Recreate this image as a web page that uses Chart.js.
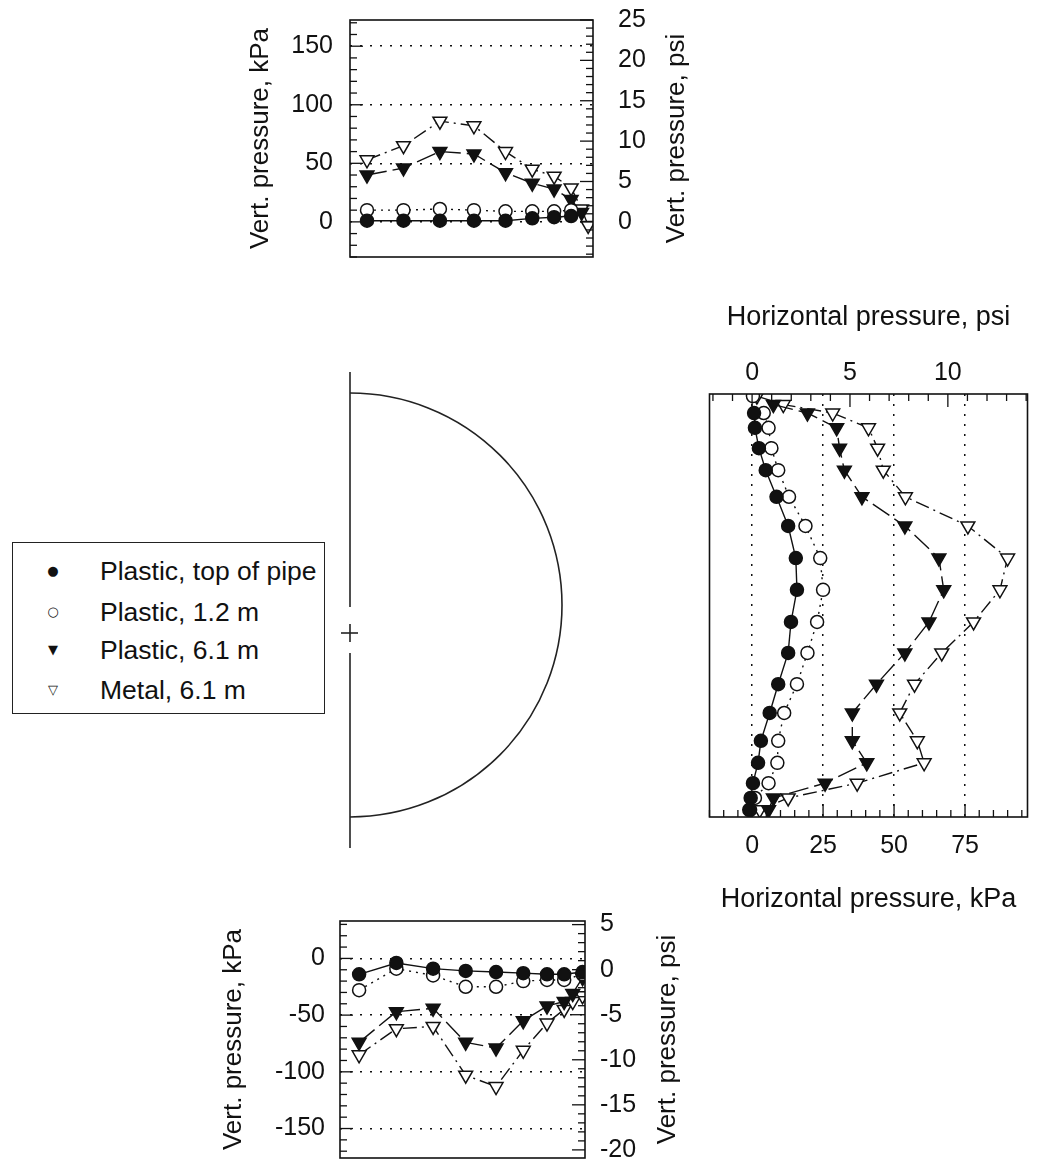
<!DOCTYPE html>
<html lang="en">
<head>
<meta charset="UTF-8">
<title>Pressure around pipe</title>
<script src="https://cdn.jsdelivr.net/npm/chart.js"></script>
<style>
  body { margin: 0; background: #fff; }
  #page { position: relative; width: 1037px; height: 1173px; overflow: hidden; font-family: "Liberation Sans", Arial, sans-serif; color: #111; }
  canvas { position: absolute; }
  #pipe { position: absolute; left: 0; top: 0; }
  #legend { position: absolute; left: 12px; top: 542px; width: 313px; height: 172px; border: 1.5px solid #222; box-sizing: border-box; }
  #legend .row { position: absolute; left: 0; height: 30px; line-height: 30px; font-size: 26.5px; white-space: nowrap; }
  #legend .mk { position: absolute; left: 30px; width: 20px; text-align: center; font-family: "DejaVu Sans", sans-serif; font-size: 13px; }
  #legend .tx { position: absolute; left: 87px; }
</style>
</head>
<body>
<div id="page">
  <svg id="pipe" width="1037" height="1173">
    <g stroke="#222" stroke-width="1.6" fill="none">
      <path d="M350,393 A212,212 0 0 1 350,817"/>
      <line x1="350" y1="372" x2="350" y2="607"/>
      <line x1="350" y1="653" x2="350" y2="848"/>
      <line x1="341" y1="633" x2="358" y2="633"/>
      <line x1="350" y1="624" x2="350" y2="642"/>
    </g>
  </svg>
  <canvas id="topChart" width="520" height="280" style="left:200px;top:0px"></canvas>
  <canvas id="sideChart" width="337" height="640" style="left:700px;top:290px"></canvas>
  <canvas id="bottomChart" width="520" height="293" style="left:190px;top:880px"></canvas>
  <div id="legend"></div>
</div>

<script>
  // legend / series names
  const seriesNames = ["Plastic, top of pipe", "Plastic, 1.2 m", "Plastic, 6.1 m", "Metal, 6.1 m"];
  const legendMarks = ["\u25CF", "\u25CB", "\u25BC", "\u25BD"];

  // top graph: vertical pressure over the crown (kPa), position across pipe 0..1
  const topPos = [0.07, 0.22, 0.37, 0.51, 0.64, 0.75, 0.84, 0.91, 0.953, 0.98];
  const topPlasticTop = [1, 1, 1, 1, 1, 3, 4, 5, null, null];
  const topPlastic12 = [10, 10, 11, 10, 9, 9, 9, 10, null, null];
  const topPlastic61 = [40, 46, 60, 58, 42, 33, 28, 19, 8, null];
  const topMetal = [53, 65, 86, 82, 60, 45, 39, 29, 11, -3];
  const topKpaTicks = [0, 50, 100, 150];
  const topPsiTicks = [0, 5, 10, 15, 20, 25];

  // bottom graph: vertical pressure under the invert (kPa)
  const btmPos = [0.078, 0.23, 0.38, 0.513, 0.637, 0.748, 0.845, 0.915, 0.95, 0.99];
  const btmPlasticTop = [-14, -4, -9, -11, -12, -13, -14, -14, null, -12];
  const btmPlastic12 = [-28, -9, -15, -25, -25, -20, -19, -19, null, -14];
  const btmPlastic61 = [-74, -47, -44, -74, -79, -55, -42, -38, -31, -17];
  const btmMetal = [-85, -62, -60, -103, -113, -81, -57, -45, -38, -33];
  const btmKpaTicks = [0, -50, -100, -150];
  const btmPsiTicks = [5, 0, -5, -10, -15, -20];

  // side graph: horizontal pressure (kPa) vs height on the pipe wall (1 = crown, 0 = invert)
  const sidePos = [0.995, 0.975, 0.955, 0.92, 0.872, 0.82, 0.757, 0.688, 0.612, 0.537, 0.461, 0.388, 0.314, 0.246, 0.18, 0.128, 0.08, 0.045, 0.017];
  const sidePlasticTop = [null, null, 0.7, 1, 2.4, 4.8, 8.6, 12.7, 15.4, 15.8, 13.7, 12.7, 9.2, 6.2, 3.1, 2.1, 0.3, -0.5, -1];
  const sidePlastic12 = [0.3, null, 4.1, 5.8, 6.8, 9.2, 13, 18.8, 24, 25, 22.9, 19.5, 15.8, 11.3, 9.2, 8.9, 5.8, 1, -0.7];
  const sidePlastic61 = [null, 7.5, 19.5, 29.8, 30.8, 32.5, 38.7, 53.8, 65.8, 67.5, 62.3, 53.8, 43.8, 35.3, 35.3, 40.4, 25.7, 7.5, 5.8];
  const sideMetal = [1.7, 11, 28.4, 41, 44.2, 46.2, 54, 76, 90, 87.3, 78, 66.8, 57.2, 52, 58.2, 60.6, 37, 12.7, 2.7];
  const sideKpaTicks = [0, 25, 50, 75];
  const sidePsiTicks = [0, 5, 10];

  const KPA_PER_PSI = 6.895;

  Chart.defaults.font.family = '"Liberation Sans", Arial, sans-serif';
  Chart.defaults.color = "#111";

  const tickFont = { size: 25 };
  const titleFont = { size: 26 };
  const wideTitleFont = { size: 27 };

  // marker + line look for each series
  const looks = [
    { pointStyle: "circle", pointRadius: 6.5, pointBackgroundColor: "#111", borderDash: [] },
    { pointStyle: "circle", pointRadius: 6.5, pointBackgroundColor: "#fff", borderDash: [2, 5] },
    { pointStyle: "triangle", pointRotation: 180, pointRadius: 8, pointBackgroundColor: "#111", borderDash: [20, 6] },
    { pointStyle: "triangle", pointRotation: 180, pointRadius: 8, pointBackgroundColor: "#fff", borderDash: [14, 5, 2, 5] }
  ];

  function makeSet(i, xs, ys) {
    const pts = [];
    xs.forEach((x, k) => { if (x !== null && ys[k] !== null) pts.push({ x: x, y: ys[k] }); });
    return Object.assign({
      label: seriesNames[i],
      data: pts,
      showLine: true,
      borderColor: "#111",
      borderWidth: 1.4,
      pointBorderColor: "#111",
      pointBorderWidth: 1.5,
      tension: 0
    }, looks[i]);
  }

  // frame around plot area, small inward ticks, and the upward-reading right title
  const frame = {
    id: "frame",
    afterDraw(chart, args, opts) {
      const { ctx, chartArea: a } = chart;
      ctx.save();
      ctx.strokeStyle = "#111";
      ctx.lineWidth = 1.6;
      ctx.setLineDash([]);
      ctx.strokeRect(a.left, a.top, a.right - a.left, a.bottom - a.top);
      ctx.lineWidth = 1.3;
      (opts.ticks || []).forEach(t => {
        const s = chart.scales[t.id];
        const lo = Math.min(s.min, s.max), hi = Math.max(s.min, s.max);
        for (let n = Math.ceil(lo / t.minor); n <= Math.floor(hi / t.minor); n++) {
          const p = s.getPixelForValue(n * t.minor);
          const len = n % t.ratio === 0 ? 13 : 7;
          ctx.beginPath();
          if (t.edge === "left") { ctx.moveTo(a.left, p); ctx.lineTo(a.left + len, p); }
          if (t.edge === "right") { ctx.moveTo(a.right, p); ctx.lineTo(a.right - len, p); }
          if (t.edge === "top") { ctx.moveTo(p, a.top); ctx.lineTo(p, a.top + len); }
          if (t.edge === "bottom") { ctx.moveTo(p, a.bottom); ctx.lineTo(p, a.bottom - len); }
          ctx.stroke();
        }
      });
      if (opts.rightTitle) {
        ctx.translate(opts.rightTitle.x, (a.top + a.bottom) / 2);
        ctx.rotate(-Math.PI / 2);
        ctx.font = titleFont.size + 'px "Liberation Sans", Arial, sans-serif';
        ctx.fillStyle = "#111";
        ctx.textAlign = "center";
        ctx.textBaseline = "middle";
        ctx.fillText(opts.rightTitle.text, 0, 0);
      }
      ctx.restore();
    }
  };

  const fixTicks = vals => s => { s.ticks = vals.map(v => ({ value: v })); };
  const fixWidth = w => s => { s.width = w; s.paddingTop = 0; s.paddingBottom = 0; };
  const fixHeight = h => s => { s.height = h; s.paddingLeft = 0; s.paddingRight = 0; };

  function gridAxis(extra) {
    return Object.assign({
      type: "linear",
      grid: { color: "#111", lineWidth: 1.5, drawTicks: false },
      border: { display: false, dash: [2, 8] },
      ticks: { font: tickFont, color: "#111" }
    }, extra);
  }

  function sideAxis(extra) {
    return Object.assign({
      type: "linear",
      grid: { drawOnChartArea: false, drawTicks: false },
      border: { display: false },
      ticks: { font: tickFont, color: "#111" }
    }, extra);
  }

  const common = {
    responsive: false,
    animation: false,
    events: [],
    plugins: { legend: { display: false }, tooltip: { enabled: false } }
  };

  // ---- top graph
  new Chart(document.getElementById("topChart"), {
    type: "scatter",
    data: {
      datasets: [
        makeSet(0, topPos, topPlasticTop),
        makeSet(1, topPos, topPlastic12),
        makeSet(2, topPos, topPlastic61),
        makeSet(3, topPos, topMetal)
      ]
    },
    plugins: [frame],
    options: Object.assign({}, common, {
      layout: { padding: { top: 20, bottom: 23, left: 0, right: 0 } },
      plugins: Object.assign({}, common.plugins, {
        frame: {
          ticks: [{ id: "y", edge: "left", minor: 10, ratio: 5 }, { id: "y2", edge: "right", minor: 1, ratio: 5 }],
          rightTitle: { text: "Vert. pressure, psi", x: 477 }
        }
      }),
      scales: {
        x: { type: "linear", display: false, min: 0, max: 1 },
        y: gridAxis({
          position: "left", min: -30, max: 25 * KPA_PER_PSI,
          afterBuildTicks: fixTicks(topKpaTicks),
          afterFit: fixWidth(150),
          ticks: { font: tickFont, color: "#111", padding: 17 },
          title: { display: true, text: "Vert. pressure, kPa", font: titleFont, color: "#111", padding: { top: 45 } }
        }),
        y2: sideAxis({
          position: "right", min: -30 / KPA_PER_PSI, max: 25,
          afterBuildTicks: fixTicks(topPsiTicks),
          afterFit: fixWidth(127),
          ticks: { font: tickFont, color: "#111", padding: 25 }
        })
      }
    })
  });

  // ---- side graph (horizontal pressure)
  new Chart(document.getElementById("sideChart"), {
    type: "scatter",
    data: {
      datasets: [
        makeSet(0, sidePlasticTop, sidePos),
        makeSet(1, sidePlastic12, sidePos),
        makeSet(2, sidePlastic61, sidePos),
        makeSet(3, sideMetal, sidePos)
      ]
    },
    plugins: [frame],
    options: Object.assign({}, common, {
      layout: { padding: { top: 0, bottom: 0, left: 7, right: 4 } },
      plugins: Object.assign({}, common.plugins, {
        frame: { ticks: [{ id: "x", edge: "bottom", minor: 5, ratio: 5 }, { id: "x2", edge: "top", minor: 1, ratio: 5 }] }
      }),
      scales: {
        x: gridAxis({
          position: "bottom", min: -15, max: 97,
          afterBuildTicks: fixTicks(sideKpaTicks),
          afterFit: fixHeight(113),
          ticks: { font: tickFont, color: "#111", padding: 14, maxRotation: 0 },
          title: { display: true, text: "Horizontal pressure, kPa", font: wideTitleFont, color: "#111", padding: { bottom: 14 } }
        }),
        x2: sideAxis({
          position: "top", min: -15 / KPA_PER_PSI, max: 97 / KPA_PER_PSI,
          afterBuildTicks: fixTicks(sidePsiTicks),
          afterFit: fixHeight(104),
          ticks: { font: tickFont, color: "#111", padding: 6, maxRotation: 0 },
          title: { display: true, text: "Horizontal pressure, psi", font: wideTitleFont, color: "#111", padding: { top: 11 } }
        }),
        y: { type: "linear", display: false, min: 0, max: 1 }
      }
    })
  });

  // ---- bottom graph
  new Chart(document.getElementById("bottomChart"), {
    type: "scatter",
    data: {
      datasets: [
        makeSet(0, btmPos, btmPlasticTop),
        makeSet(1, btmPos, btmPlastic12),
        makeSet(2, btmPos, btmPlastic61),
        makeSet(3, btmPos, btmMetal)
      ]
    },
    plugins: [frame],
    options: Object.assign({}, common, {
      layout: { padding: { top: 41, bottom: 15, left: 0, right: 0 } },
      plugins: Object.assign({}, common.plugins, {
        frame: {
          ticks: [{ id: "y", edge: "left", minor: 10, ratio: 5 }, { id: "y2", edge: "right", minor: 1, ratio: 5 }],
          rightTitle: { text: "Vert. pressure, psi", x: 478 }
        }
      }),
      scales: {
        x: { type: "linear", display: false, min: 0, max: 1 },
        y: gridAxis({
          position: "left", min: -176, max: 33,
          afterBuildTicks: fixTicks(btmKpaTicks),
          afterFit: fixWidth(150),
          ticks: { font: tickFont, color: "#111", padding: 15 },
          title: { display: true, text: "Vert. pressure, kPa", font: titleFont, color: "#111", padding: { top: 28 } }
        }),
        y2: sideAxis({
          position: "right", min: -20.9, max: 5.4,
          afterBuildTicks: fixTicks(btmPsiTicks),
          afterFit: fixWidth(125),
          ticks: { font: tickFont, color: "#111", padding: 15 }
        })
      }
    })
  });

  // ---- legend box
  const legend = document.getElementById("legend");
  const rowTops = [13, 54, 92, 132];
  seriesNames.forEach((name, i) => {
    const row = document.createElement("div");
    row.className = "row";
    row.style.top = rowTops[i] + "px";
    row.innerHTML = '<span class="mk">' + legendMarks[i] + '</span><span class="tx">' + name + "</span>";
    legend.appendChild(row);
  });
</script>
</body>
</html>
